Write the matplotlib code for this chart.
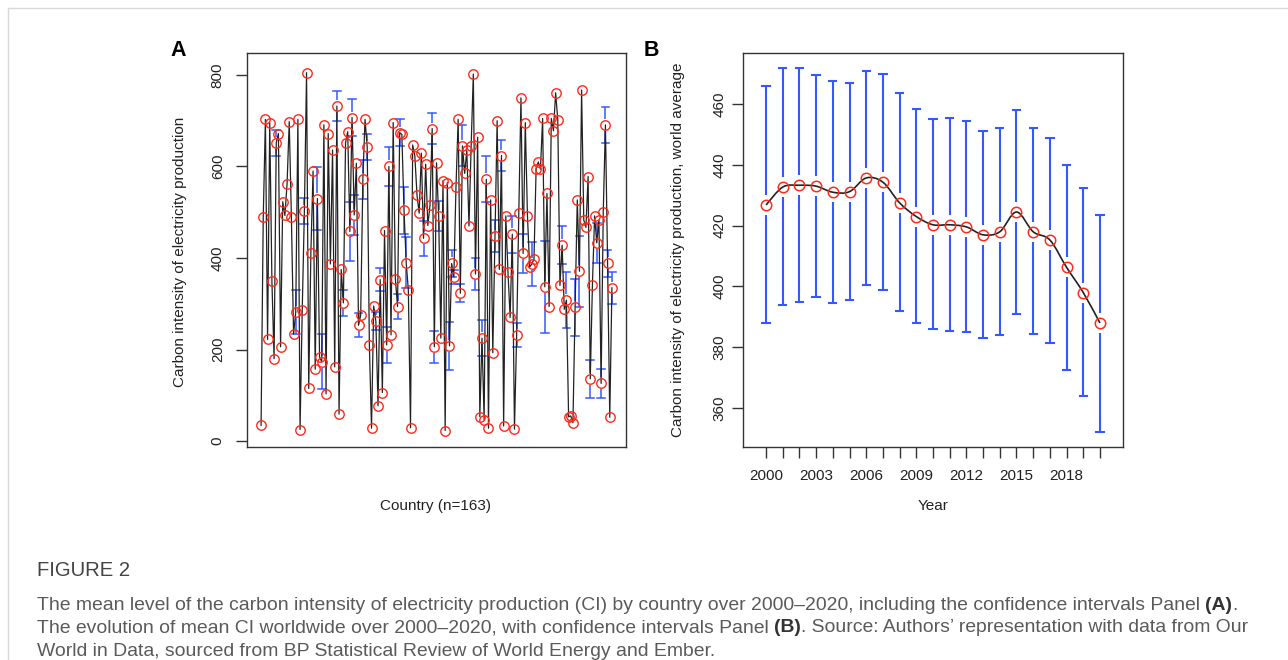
import matplotlib
matplotlib.use("Agg")
import matplotlib.pyplot as plt
from matplotlib.path import Path
from matplotlib.patches import PathPatch
import numpy as np

# ---------------- data ----------------
# Panel A: mean CI by country (163 countries, in plotted order)
country_ci = [34, 489, 703, 222, 696, 350, 180, 652, 672, 206,
              523, 493, 562, 698, 489, 234, 281, 703, 25, 286,
              503, 805, 115, 412, 590, 157, 530, 184, 173, 691,
              103, 672, 387, 636, 162, 732, 59, 375, 302, 652,
              676, 458, 707, 494, 607, 253, 275, 572, 703, 643,
              210, 28, 295, 262, 77, 353, 106, 460, 210, 600,
              232, 696, 355, 294, 674, 670, 504, 390, 330, 29,
              647, 623, 537, 498, 629, 443, 605, 471, 515, 683,
              206, 608, 492, 225, 569, 23, 565, 208, 388, 359,
              556, 703, 323, 645, 585, 635, 470, 645, 802, 365,
              664, 53, 225, 46, 572, 28, 527, 193, 448, 700,
              375, 624, 33, 492, 369, 270, 452, 26, 231, 498,
              750, 410, 696, 492, 380, 387, 397, 595, 610, 594,
              705, 337, 541, 294, 705, 678, 761, 702, 340, 428,
              288, 308, 53, 55, 40, 292, 527, 371, 767, 483,
              467, 578, 136, 342, 492, 433, 483, 126, 501, 691,
              388, 52, 335]

# confidence-interval half widths (countries whose bars are visible; others narrow)
ci_wide = {8: 28, 17: 48, 21: 28, 27: 69, 29: 60, 36: 33, 39: 29, 42: 64,
           43: 40, 44: 44, 46: 26, 48: 42, 50: 28, 54: 20, 56: 25, 59: 40,
           60: 42, 64: 28, 65: 30, 67: 51, 68: 55, 76: 38, 80: 33, 81: 35,
           83: 33, 88: 53, 89: 30, 90: 15, 93: 20, 94: 45, 100: 35, 103: 40,
           105: 50, 109: 35, 112: 33, 117: 40, 119: 26, 122: 42, 126: 48,
           132: 100, 140: 42, 142: 62, 146: 62, 148: 78, 153: 42, 156: 43,
           158: 31, 160: 40, 161: 30, 163: 35}
ci_halfwidth = [ci_wide.get(i + 1, 8) for i in range(len(country_ci))]

# Panel B: world average CI by year with confidence intervals
years = list(range(2000, 2021))
world_ci = [426.8, 432.7, 433.3, 433.0, 431.0, 431.2, 435.7, 434.3, 427.5, 423.0,
            420.3, 420.3, 419.6, 417.0, 418.0, 424.5, 418.0, 415.3, 406.3, 398.0, 388.0]
world_upper = [466, 472, 472, 469.5, 467.5, 467, 471, 470, 463.5, 458.5,
               455, 455.5, 454.5, 451, 452, 458, 452, 449, 440, 432.5, 423.5]
world_lower = [388, 394, 395, 396.5, 394.5, 395.5, 400.5, 399, 392, 388,
               386, 385.5, 385, 383, 384, 391, 384.5, 381.5, 372.5, 364, 352]

yticks_a = [0, 200, 400, 600, 800]
yticks_b = [360, 380, 400, 420, 440, 460]
xticklabels_b = {2000: "2000", 2003: "2003", 2006: "2006", 2009: "2009",
                 2012: "2012", 2015: "2015", 2018: "2018"}

# ---------------- style ----------------
W, H = 1288, 660
FONT = ["Liberation Sans", "DejaVu Sans"]
plt.rcParams["font.family"] = FONT
RED = "#ff2a1a"
BLUE = "#3358ff"
LINE = "#222222"
TICK_FS = 11

fig = plt.figure(figsize=(W / 100, H / 100), dpi=100)
fig.patch.set_facecolor("white")


def fbox(l, t, r, b):
    return [l / W, 1 - b / H, (r - l) / W, (b - t) / H]


def style_axes(ax, ypad):
    for s in ax.spines.values():
        s.set_color("#333333")
        s.set_linewidth(1.0)
    ax.tick_params(axis="both", direction="out", length=8, width=1.0,
                   color="#333333", labelsize=TICK_FS, labelcolor="#222222", pad=8)
    ax.tick_params(axis="y", pad=ypad)


def draw_ci(ax, xs, ys, los, his, gap, cap_half, lw):
    for x, y, lo, hi in zip(xs, ys, los, his):
        if hi > y + gap:
            ax.plot([x, x], [y + gap, hi], color=BLUE, lw=lw, zorder=2, solid_capstyle="butt")
            ax.plot([x - cap_half, x + cap_half], [hi, hi], color=BLUE, lw=lw, zorder=2)
        if lo < y - gap:
            ax.plot([x, x], [lo, y - gap], color=BLUE, lw=lw, zorder=2, solid_capstyle="butt")
            ax.plot([x - cap_half, x + cap_half], [lo, lo], color=BLUE, lw=lw, zorder=2)


# ---------------- Panel A ----------------
axA = fig.add_axes(fbox(247, 53, 626, 447))
style_axes(axA, ypad=8)
xa = np.arange(1, len(country_ci) + 1)
axA.set_xlim(-5.5, 169.5)
axA.set_ylim(-13, 848)
ya = np.array(country_ci, dtype=float)
hw = np.array(ci_halfwidth, dtype=float)
px_per_unit_a = 394 / (848 + 13)
draw_ci(axA, xa, ya, ya - hw, ya + hw, gap=6 / px_per_unit_a, cap_half=1.8, lw=1.1)
axA.plot(xa, ya, color=LINE, lw=0.9, zorder=3)
axA.plot(xa, ya, linestyle="none", marker="o", ms=6.8, mfc="none", mec=RED, mew=1.0, zorder=4)
axA.set_xticks([])
axA.set_yticks(yticks_a)
axA.set_yticklabels([str(v) for v in yticks_a], rotation=90, va="center")

# ---------------- Panel B ----------------
axB = fig.add_axes(fbox(743, 53, 1123, 447))
style_axes(axB, ypad=4)
axB.set_xlim(1998.62, 2021.38)
axB.set_ylim(347.2, 476.8)
yb = np.array(world_ci)
px_per_unit_b = 394 / (476.8 - 347.2)
draw_ci(axB, years, yb, world_lower, world_upper, gap=10 / px_per_unit_b, cap_half=0.22, lw=1.5)

# smooth curve through the yearly means (Catmull-Rom rendered as Bezier segments)
pts = np.column_stack([years, yb]).astype(float)
verts = [tuple(pts[0])]
codes = [Path.MOVETO]
n = len(pts)
for i in range(n - 1):
    p0 = pts[i - 1] if i > 0 else pts[i]
    p1 = pts[i]
    p2 = pts[i + 1]
    p3 = pts[i + 2] if i + 2 < n else pts[i + 1]
    c1 = p1 + (p2 - p0) / 6.0
    c2 = p2 - (p3 - p1) / 6.0
    verts += [tuple(c1), tuple(c2), tuple(p2)]
    codes += [Path.CURVE4] * 3
axB.add_patch(PathPatch(Path(verts, codes), fill=False, edgecolor=LINE, lw=1.2, zorder=3))
axB.plot(years, yb, linestyle="none", marker="o", ms=7.5, mfc="none", mec=RED, mew=1.1, zorder=4)
axB.set_xticks(years)
axB.set_xticklabels([xticklabels_b.get(y, "") for y in years])
axB.set_yticks(yticks_b)
axB.set_yticklabels([str(v) for v in yticks_b], rotation=90, va="center")

# ---------------- labels ----------------
fig.text(180 / W, 1 - 252 / H, "Carbon intensity of electricity production",
         rotation=90, ha="center", va="center", fontsize=TICK_FS, color="#222222")
fig.text(678 / W, 1 - 250 / H, "Carbon intensity of electricity production, world average",
         rotation=90, ha="center", va="center", fontsize=TICK_FS, color="#222222")
fig.text(436 / W, 1 - 506 / H, "Country (n=163)", ha="center", va="center",
         fontsize=TICK_FS, color="#222222")
fig.text(933 / W, 1 - 506 / H, "Year", ha="center", va="center",
         fontsize=TICK_FS, color="#222222")
fig.text(178 / W, 1 - 50 / H, "A", ha="center", va="center", fontsize=15.5,
         fontweight="bold", color="black")
fig.text(651 / W, 1 - 50 / H, "B", ha="center", va="center", fontsize=15.5,
         fontweight="bold", color="black")

# ---------------- frame lines ----------------
fig.add_artist(plt.Line2D([8 / W, 1], [1 - 8 / H, 1 - 8 / H], transform=fig.transFigure,
                          color="#d9d9d9", lw=1.0))
fig.add_artist(plt.Line2D([8 / W, 8 / W], [0, 1 - 8 / H], transform=fig.transFigure,
                          color="#d9d9d9", lw=1.0))

# ---------------- caption ----------------
CAP_FONT = ["Liberation Sans", "DejaVu Sans"]
CAP_COLOR = "#5a5a5a"
caption_lines = [
    [("The mean level of the carbon intensity of electricity production (CI) by country over 2000\u20132020, including the confidence intervals Panel ", "normal"),
     ("(A)", "bold"), (".", "normal")],
    [("The evolution of mean CI worldwide over 2000\u20132020, with confidence intervals Panel ", "normal"),
     ("(B)", "bold"), (". Source: Authors\u2019 representation with data from Our", "normal")],
    [("World in Data, sourced from BP Statistical Review of World Energy and Ember.", "normal")],
]
line_y = [605, 628, 651]

renderer = fig.canvas.get_renderer()
# fit caption font size so the first line spans its width in the reference
probe = fig.text(0, 0, "".join(s for s, _ in caption_lines[0]), fontsize=10, family=CAP_FONT)
w10 = probe.get_window_extent(renderer).width
probe.remove()
cap_fs = 10 * (1200 / w10)

for segs, yc in zip(caption_lines, line_y):
    x = 37.0
    for s, wt in segs:
        t = fig.text(x / W, 1 - yc / H, s, fontsize=cap_fs, family=CAP_FONT,
                     fontweight=wt, color=CAP_COLOR if wt == "normal" else "#333333",
                     ha="left", va="center")
        x += t.get_window_extent(renderer).width

fig.text(37 / W, 1 - 570 / H, "FIGURE 2", fontsize=cap_fs * 1.05, family=CAP_FONT,
         color="#444444", ha="left", va="center")

fig.savefig("out.png", dpi=100, facecolor="white")
